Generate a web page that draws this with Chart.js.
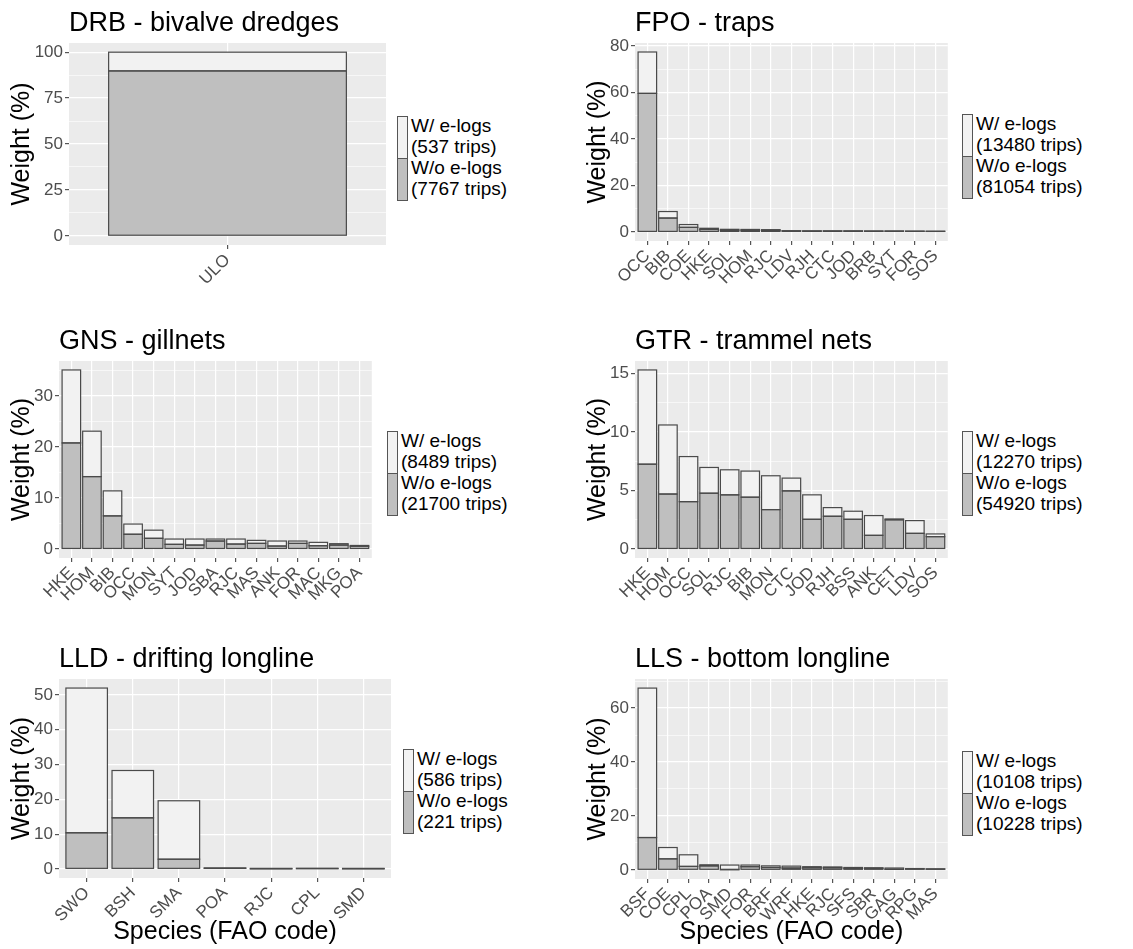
<!DOCTYPE html>
<html>
<head>
<meta charset="utf-8">
<script src="https://cdn.jsdelivr.net/npm/chart.js@4.4.1/dist/chart.umd.min.js"></script>
<style>
  body { margin: 0; background: #fff; width: 1133px; height: 949px; position: relative; overflow: hidden;
         font-family: "Liberation Sans", Arial, sans-serif; }
  canvas { position: absolute; }
  .legend { position: absolute; }
  .legend .key { position: absolute; left: 0; width: 11px; height: 43px; box-sizing: border-box; border: 1px solid #555; }
  .legend .txt { position: absolute; left: 14px; top: -1px; white-space: nowrap; font-size: 19px; line-height: 21px; color: #000; }
</style>
</head>
<body>
<script>
// ---- data ----
// W/o = grey lower part, W/ = light upper part, weight in %

// DRB - bivalve dredges
const drbSpecies = ['ULO'];
const drbWithout = [89.8];
const drbWith = [10.2];
const drbTrips = [537, 7767];          // [with e-logs, without e-logs]
const drbTicks = [0, 25, 50, 75, 100];

// FPO - traps
const fpoSpecies = ['OCC', 'BIB', 'COE', 'HKE', 'SOL', 'HOM', 'RJC', 'LDV', 'RJH', 'CTC', 'JOD', 'BRB', 'SYT', 'FOR', 'SOS'];
const fpoWithout = [59.6, 6.0, 2.0, 1.1, 0.8, 0.8, 0.75, 0.45, 0.4, 0.4, 0.4, 0.35, 0.35, 0.3, 0.25];
const fpoWith = [17.8, 2.8, 1.2, 0.5, 0.35, 0.3, 0.25, 0.1, 0.1, 0.1, 0.1, 0.1, 0.1, 0.1, 0.1];
const fpoTrips = [13480, 81054];
const fpoTicks = [0, 20, 40, 60, 80];

// GNS - gillnets
const gnsSpecies = ['HKE', 'HOM', 'BIB', 'OCC', 'MON', 'SYT', 'JOD', 'SBA', 'RJC', 'MAS', 'ANK', 'FOR', 'MAC', 'MKG', 'POA'];
const gnsWithout = [20.8, 14.2, 6.5, 2.9, 2.1, 0.92, 0.78, 1.57, 0.98, 1.11, 0.59, 1.11, 0.65, 0.78, 0.55];
const gnsWith = [14.3, 8.9, 4.9, 2.0, 1.6, 1.04, 1.18, 0.39, 0.98, 0.59, 0.98, 0.46, 0.66, 0.27, 0.15];
const gnsTrips = [8489, 21700];
const gnsTicks = [0, 10, 20, 30];

// GTR - trammel nets
const gtrSpecies = ['HKE', 'HOM', 'OCC', 'SOL', 'RJC', 'BIB', 'MON', 'CTC', 'JOD', 'RJH', 'BSS', 'ANK', 'CET', 'LDV', 'SOS'];
const gtrWithout = [7.25, 4.7, 4.05, 4.77, 4.63, 4.43, 3.37, 4.97, 2.54, 2.8, 2.54, 1.17, 2.5, 1.34, 1.06];
const gtrWith = [8.05, 5.9, 3.85, 2.2, 2.14, 2.23, 2.89, 1.09, 2.09, 0.74, 0.69, 1.69, 0.07, 1.09, 0.23];
const gtrTrips = [12270, 54920];
const gtrTicks = [0, 5, 10, 15];

// LLD - drifting longline
const lldSpecies = ['SWO', 'BSH', 'SMA', 'POA', 'RJC', 'CPL', 'SMD'];
const lldWithout = [10.4, 14.7, 2.8, 0.2, 0.05, 0.1, 0.05];
const lldWith = [41.6, 13.6, 16.8, 0.1, 0.05, 0.05, 0.05];
const lldTrips = [586, 221];
const lldTicks = [0, 10, 20, 30, 40, 50];

// LLS - bottom longline
const llsSpecies = ['BSF', 'COE', 'CPL', 'POA', 'SMD', 'FOR', 'BRF', 'WRF', 'HKE', 'RJC', 'SFS', 'SBR', 'GAG', 'RPG', 'MAS'];
const llsWithout = [12.0, 4.1, 1.3, 1.5, 0.1, 1.2, 0.9, 0.7, 0.8, 0.8, 0.6, 0.6, 0.2, 0.4, 0.3];
const llsWith = [55.4, 4.2, 4.3, 0.4, 1.7, 0.6, 0.6, 0.7, 0.4, 0.3, 0.3, 0.2, 0.5, 0.1, 0.1];
const llsTrips = [10108, 10228];
const llsTicks = [0, 20, 40, 60];

// ---- layout ----
const FONT = '"Liberation Sans", Arial, sans-serif';
Chart.defaults.font.family = FONT;

const panels = [
  { title: 'DRB - bivalve dredges', species: drbSpecies, wo: drbWithout, wi: drbWith, trips: drbTrips, ticks: drbTicks,
    x: 0, y: 0, w: 386, h: 300, yw: 69, xh: 55, plotTop: 43, legX: 397, legY: 116, xTitle: false },
  { title: 'FPO - traps', species: fpoSpecies, wo: fpoWithout, wi: fpoWith, trips: fpoTrips, ticks: fpoTicks,
    x: 576, y: 0, w: 375, h: 300, yw: 59, xh: 59, plotTop: 43, legX: 962, legY: 114, xTitle: false },
  { title: 'GNS - gillnets', species: gnsSpecies, wo: gnsWithout, wi: gnsWith, trips: gnsTrips, ticks: gnsTicks,
    x: 0, y: 300, w: 375, h: 320, yw: 59, xh: 62, plotTop: 61, legX: 387, legY: 431, xTitle: false },
  { title: 'GTR - trammel nets', species: gtrSpecies, wo: gtrWithout, wi: gtrWith, trips: gtrTrips, ticks: gtrTicks,
    x: 576, y: 300, w: 375, h: 320, yw: 59, xh: 62, plotTop: 61, legX: 962, legY: 431, xTitle: false },
  { title: 'LLD - drifting longline', species: lldSpecies, wo: lldWithout, wi: lldWith, trips: lldTrips, ticks: lldTicks,
    x: 0, y: 620, w: 391, h: 329, yw: 59, xh: 71, plotTop: 59, legX: 403, legY: 749, xTitle: true },
  { title: 'LLS - bottom longline', species: llsSpecies, wo: llsWithout, wi: llsWith, trips: llsTrips, ticks: llsTicks,
    x: 576, y: 620, w: 375, h: 329, yw: 59, xh: 70, plotTop: 59, legX: 962, legY: 751, xTitle: true }
];

// grey panel background like ggplot
const panelBg = {
  id: 'panelBg',
  beforeDraw(chart) {
    const a = chart.chartArea;
    chart.ctx.save();
    chart.ctx.fillStyle = '#ebebeb';
    chart.ctx.fillRect(a.left, a.top, a.right - a.left, a.bottom - a.top);
    chart.ctx.restore();
  }
};

// outline drawn on the bar edges (ggplot style), so thin bars still show as a line
const barOutline = {
  id: 'barOutline',
  afterDatasetsDraw(chart) {
    const ctx = chart.ctx;
    ctx.save();
    ctx.strokeStyle = '#4a4a4a';
    ctx.lineWidth = 1.2;
    chart.data.datasets.forEach((ds, i) => {
      chart.getDatasetMeta(i).data.forEach(bar => {
        const { x, y, base, width } = bar.getProps(['x', 'y', 'base', 'width'], true);
        ctx.strokeRect(x - width / 2, Math.min(y, base), width, Math.abs(base - y));
      });
    });
    ctx.restore();
  }
};

function addLegend(p) {
  const d = document.createElement('div');
  d.className = 'legend';
  d.style.left = p.legX + 'px';
  d.style.top = p.legY + 'px';
  d.innerHTML =
    '<div class="key" style="top:0;background:#f2f2f2"></div>' +
    '<div class="key" style="top:42px;background:#bfbfbf"></div>' +
    '<div class="txt">W/ e-logs<br>(' + p.trips[0] + ' trips)<br>W/o e-logs<br>(' + p.trips[1] + ' trips)</div>';
  document.body.appendChild(d);
}

function makePanel(p) {
  const cv = document.createElement('canvas');
  cv.width = p.w;
  cv.height = p.h;
  cv.style.left = p.x + 'px';
  cv.style.top = p.y + 'px';
  document.body.appendChild(cv);

  const n = p.species.length;
  const totals = p.wo.map((v, i) => v + p.wi[i]);
  const top = Math.max(...totals);
  const ymin = -0.05 * top, ymax = 1.05 * top;
  const step = p.ticks[1] - p.ticks[0];
  const minor = [];
  p.ticks.forEach(t => { if (t + step / 2 <= ymax) minor.push(t + step / 2); });
  const isMajor = v => p.ticks.includes(v);
  const titleBox = 27 * 1.2 + 3;

  new Chart(cv, {
    type: 'bar',
    data: {
      labels: p.species,
      datasets: [
        { label: 'W/o e-logs', data: p.wo, backgroundColor: '#bfbfbf' },
        { label: 'W/ e-logs', data: p.wi, backgroundColor: '#f2f2f2' }
      ]
    },
    plugins: [panelBg, barOutline],
    options: {
      responsive: false,
      animation: false,
      devicePixelRatio: 1,
      layout: { padding: { top: p.plotTop - titleBox, left: 0, right: 0, bottom: 0 } },
      datasets: {
        bar: {
          borderWidth: 0, inflateAmount: 0,
          barPercentage: 0.9, categoryPercentage: n === 1 ? 1 / 1.2 : 1
        }
      },
      plugins: {
        legend: { display: false },
        tooltip: { enabled: false },
        title: {
          display: true, text: p.title, align: 'start', fullSize: false, color: '#000',
          font: { size: 27, weight: 'normal' }, padding: { top: 0, bottom: 3 }
        }
      },
      scales: {
        x: {
          stacked: true,
          offset: true,
          // ggplot discrete axis: 0.6 category of room on each side
          afterBuildTicks: s => { s._startValue = -0.6; s._valueRange = n - 1 + 1.2; },
          afterFit: s => { s.height = p.xh; },
          grid: { offset: false, color: '#fff', lineWidth: 1.2, tickColor: '#555', tickLength: 4 },
          border: { display: false },
          ticks: { autoSkip: false, maxRotation: 45, minRotation: 45, color: '#4d4d4d', font: { size: 17 }, padding: 1 },
          title: {
            display: p.xTitle, text: 'Species (FAO code)', color: '#000',
            font: { size: 25 }, padding: { top: 0, bottom: 2 }
          }
        },
        y: {
          stacked: true,
          min: ymin,
          max: ymax,
          bounds: 'data',
          afterBuildTicks: s => {
            s.ticks = p.ticks.concat(minor).sort((a, b) => a - b).map(v => ({ value: v }));
          },
          afterFit: s => { s.width = p.yw; },
          grid: {
            color: '#fff',
            lineWidth: c => isMajor(c.tick.value) ? 1.2 : 0.6,
            tickColor: c => isMajor(c.tick.value) ? '#555' : 'rgba(0,0,0,0)',
            tickLength: 4
          },
          border: { display: false },
          ticks: {
            color: '#4d4d4d', font: { size: 17 }, padding: 2,
            callback: v => isMajor(v) ? String(v) : ''
          },
          title: {
            display: true, text: 'Weight (%)', color: '#000',
            font: { size: 25 }, padding: { top: 7, bottom: 0 }
          }
        }
      }
    }
  });

  addLegend(p);
}

panels.forEach(makePanel);
</script>
</body>
</html>
